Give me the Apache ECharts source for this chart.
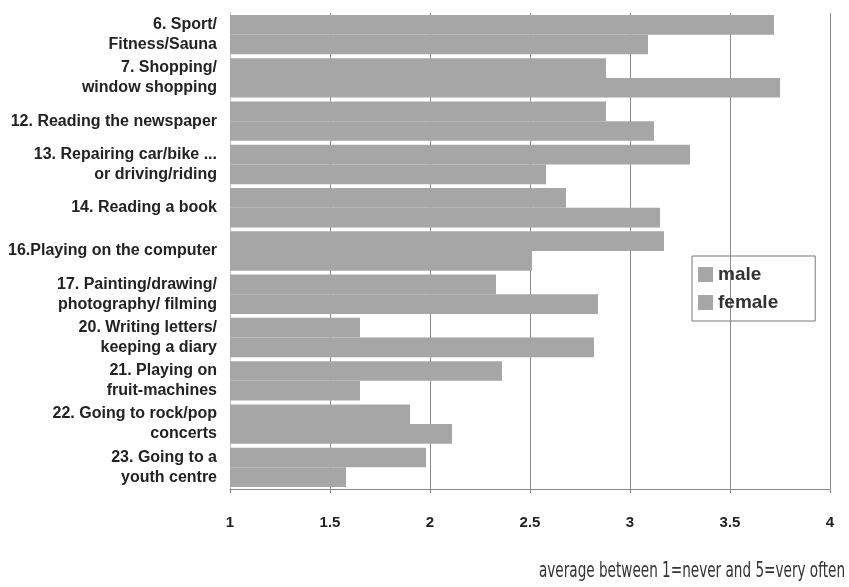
<!DOCTYPE html>
<html>
<head>
<meta charset="utf-8">
<script src="https://cdn.jsdelivr.net/npm/echarts@6/dist/echarts.min.js"></script>
<style>
html,body{margin:0;padding:0;background:#fff;}
#chart{width:849px;height:587px;}
</style>
</head>
<body>
<div id="chart"></div>
<script>
var categories = [
  "6. Sport/\nFitness/Sauna",
  "7. Shopping/\nwindow shopping",
  "12. Reading the newspaper",
  "13. Repairing car/bike ...\nor driving/riding",
  "14. Reading a book",
  "16.Playing on the computer",
  "17. Painting/drawing/\nphotography/ filming",
  "20. Writing letters/\nkeeping a diary",
  "21. Playing on\nfruit-machines",
  "22. Going to rock/pop\nconcerts",
  "23. Going to a\nyouth centre"
];
var maleValues   = [3.72, 2.88, 2.88, 3.30, 2.68, 3.17, 2.33, 1.65, 2.36, 1.90, 1.98];
var femaleValues = [3.09, 3.75, 3.12, 2.58, 3.15, 2.51, 2.84, 2.82, 1.65, 2.11, 1.58];
var seriesNames = ["male", "female"];
var axisTitle = "average between 1=never and 5=very often";

var chart = echarts.init(document.getElementById('chart'), null, {renderer: 'canvas'});
chart.setOption({
  backgroundColor: '#ffffff',
  animation: false,
  graphic: [{
    type: 'text',
    x: 845,
    y: 572,
    scaleX: 0.72,
    style: {
      text: axisTitle,
      x: 0,
      y: 0,
      align: 'right',
      verticalAlign: 'middle',
      font: "normal 21px 'DejaVu Sans Condensed', 'Open Sans', sans-serif",
      fill: '#333'
    }
  }],
  legend: {
    data: seriesNames,
    orient: 'vertical',
    left: 692,
    top: 256,
    padding: [9, 37, 9, 6],
    itemGap: 9,
    itemWidth: 15,
    itemHeight: 15,
    borderColor: '#777',
    borderWidth: 1,
    icon: 'rect',
    textStyle: {
      fontFamily: "'Liberation Sans', Arial, sans-serif",
      fontSize: 19,
      fontWeight: 'bold',
      color: '#333'
    }
  },
  grid: {
    left: 230,
    width: 600,
    top: 13,
    height: 476,
    containLabel: false
  },
  xAxis: {
    type: 'value',
    min: 1,
    max: 4,
    interval: 0.5,
    axisLine: {show: true, lineStyle: {color: '#888', width: 1}},
    axisTick: {show: true, length: 4, lineStyle: {color: '#888'}},
    splitLine: {show: true, lineStyle: {color: '#8a8a8a', width: 1}},
    axisLabel: {
      margin: 26,
      fontFamily: "'Liberation Sans', Arial, sans-serif",
      fontSize: 15,
      fontWeight: 'bold',
      color: '#222'
    }
  },
  yAxis: {
    type: 'category',
    inverse: true,
    data: categories,
    axisLine: {show: true, lineStyle: {color: '#bbb'}},
    axisTick: {show: false},
    axisLabel: {
      margin: 13,
      fontFamily: "'Liberation Sans', Arial, sans-serif",
      fontSize: 16,
      fontWeight: 'bold',
      lineHeight: 20,
      color: '#222',
      align: 'right'
    }
  },
  series: [
    {
      name: seriesNames[0],
      type: 'bar',
      data: maleValues,
      barGap: '0%',
      barCategoryGap: '9%',
      itemStyle: {color: '#a6a6a6'}
    },
    {
      name: seriesNames[1],
      type: 'bar',
      data: femaleValues,
      barGap: '0%',
      barCategoryGap: '9%',
      itemStyle: {color: '#a6a6a6'}
    }
  ]
});
</script>
</body>
</html>
